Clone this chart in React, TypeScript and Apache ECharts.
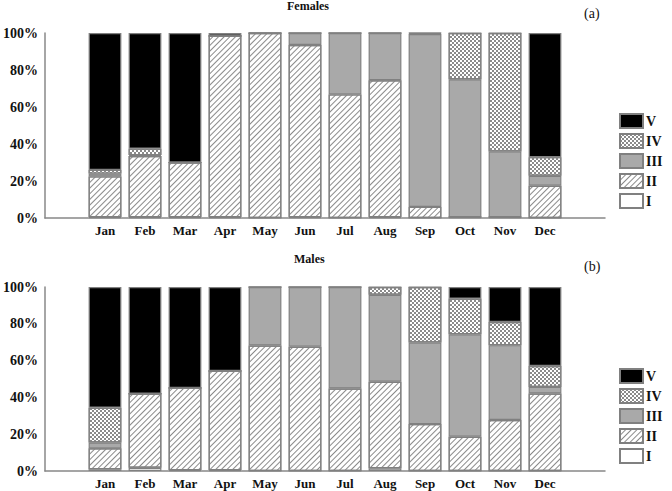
import React, { useEffect, useRef } from "react";
import * as echarts from "echarts";

const months = ["", "Jan", "Feb", "Mar", "Apr", "May", "Jun", "Jul", "Aug", "Sep", "Oct", "Nov", "Dec", ""];
const stages = ["I", "II", "III", "IV", "V"];
const yTicks = [0, 20, 40, 60, 80, 100];

// Females (a), percent per stage, Jan..Dec
const fI = [0.5, 0.5, 0.5, 0.5, 0, 0.5, 0, 0.5, 0, 0.5, 0.5, 0];
const fII = [22, 33, 29.5, 98, 100, 93, 66.8, 74, 6, 0, 0, 17.4];
const fIII = [1.5, 0.5, 0, 0, 0, 6.5, 33.2, 25.5, 93.5, 74.5, 35.5, 5.4];
const fIV = [2, 3.5, 0, 0, 0, 0, 0, 0, 0.5, 25, 64, 10.1];
const fV = [74, 62.5, 70, 1.5, 0, 0, 0, 0, 0, 0, 0, 67.1];

// Males (b)
const mI = [1, 1.8, 0.5, 0.5, 0, 0, 0, 1.5, 0, 0, 0, 0];
const mII = [11.3, 40.2, 44.7, 53.9, 68.2, 67.5, 44.8, 47, 25.5, 18.6, 27.7, 42.1];
const mIII = [3.2, 0, 0, 0, 31.8, 32.5, 55.2, 47.3, 44.3, 55.7, 40.7, 3.6];
const mIV = [18.9, 0, 0, 0, 0, 0, 0, 4.2, 30.2, 19.4, 12.6, 11.4];
const mV = [65.6, 58, 54.8, 45.6, 0, 0, 0, 0, 0, 6.3, 19, 42.9];

const FONT = "Liberation Serif";

const pad = (arr: number[]) => [null, ...arr, null];

const styles: Record<string, any> = {
  I: { color: "#ffffff" },
  II: {
    color: "#ffffff",
    decal: {
      symbol: "rect",
      symbolSize: 1,
      color: "#8a8a8a",
      dashArrayX: [1, 0],
      dashArrayY: [0.9, 2.6],
      rotation: -Math.PI / 4,
    },
  },
  III: { color: "#a9a9a9" },
  IV: {
    color: "#ffffff",
    decal: {
      symbol: "rect",
      symbolSize: 1,
      color: "#8a8a8a",
      dashArrayX: [[1.6, 1.6], [0, 1.6, 1.6, 0]],
      dashArrayY: [1.6, 0],
      rotation: 0,
    },
  },
  V: { color: "#000000" },
};

export default function App() {
  const ref = useRef<HTMLDivElement>(null);
  useEffect(() => {
    if (!ref.current) return;
    const chart = echarts.init(ref.current, undefined, { renderer: "svg" });
    const fData = [fI, fII, fIII, fIV, fV];
    const mData = [mI, mII, mIII, mIV, mV];

    const grids = [
      { left: 40, right: 67, top: 33, height: 185 },
      { left: 40, right: 67, top: 287, height: 184 },
    ];
    const axisLabelStyle = {
      fontFamily: FONT,
      fontWeight: "bold" as const,
      fontSize: 13,
      color: "#111",
    };
    const xAxes = grids.map((_, i) => ({
      type: "category" as const,
      gridIndex: i,
      data: months,
      boundaryGap: true,
      axisLine: { lineStyle: { color: "#888", width: 1.5 } },
      axisTick: { show: false },
      axisLabel: { ...axisLabelStyle, margin: 6, interval: 0 },
    }));
    const yAxes = grids.map((_, i) => ({
      type: "value" as const,
      gridIndex: i,
      min: yTicks[0],
      max: yTicks[yTicks.length - 1],
      interval: 20,
      splitLine: { show: false },
      axisLine: { show: true, lineStyle: { color: "#888", width: 1.5 } },
      axisTick: { show: false },
      axisLabel: { ...axisLabelStyle, fontSize: 14, margin: 7, formatter: "{value}%" },
    }));

    const series: any[] = [];
    [fData, mData].forEach((data, g) => {
      stages.forEach((s, k) => {
        series.push({
          name: s,
          type: "bar",
          xAxisIndex: g,
          yAxisIndex: g,
          stack: g === 0 ? "f" : "m",
          barWidth: "82%",
          data: pad(data[k]),
          itemStyle: { ...styles[s], borderColor: "#808080", borderWidth: 1.2 },
          emphasis: { disabled: true },
        });
      });
    });

    const legendBase = {
      orient: "vertical" as const,
      left: 619,
      icon: "rect",
      itemWidth: 23,
      itemHeight: 14,
      itemGap: 4,
      data: ["V", "IV", "III", "II", "I"],
      textStyle: { fontFamily: FONT, fontSize: 14, fontWeight: "bold" as const, color: "#111", padding: [0, 0, 0, -2] },
      selectedMode: false,
      padding: 0,
    };

    chart.setOption({
      animation: false,
      backgroundColor: "#fff",
      grid: grids,
      xAxis: xAxes,
      yAxis: yAxes,
      series,
      legend: [
        { ...legendBase, top: 113 },
        { ...legendBase, top: 368 },
      ],
      graphic: [
        { type: "text", left: 287, top: 0, style: { text: "Females", font: `bold 12px ${FONT}`, fill: "#111" } },
        { type: "text", left: 584, top: 6, style: { text: "(a)", font: `14px ${FONT}`, fill: "#111" } },
        { type: "text", left: 294, top: 253, style: { text: "Males", font: `bold 12px ${FONT}`, fill: "#111" } },
        { type: "text", left: 584, top: 259, style: { text: "(b)", font: `14px ${FONT}`, fill: "#111" } },
      ],
    });
    return () => chart.dispose();
  }, []);
  return <div ref={ref} style={{ width: 672, height: 491, position: "absolute", left: 0, top: 0 }} />;
}
